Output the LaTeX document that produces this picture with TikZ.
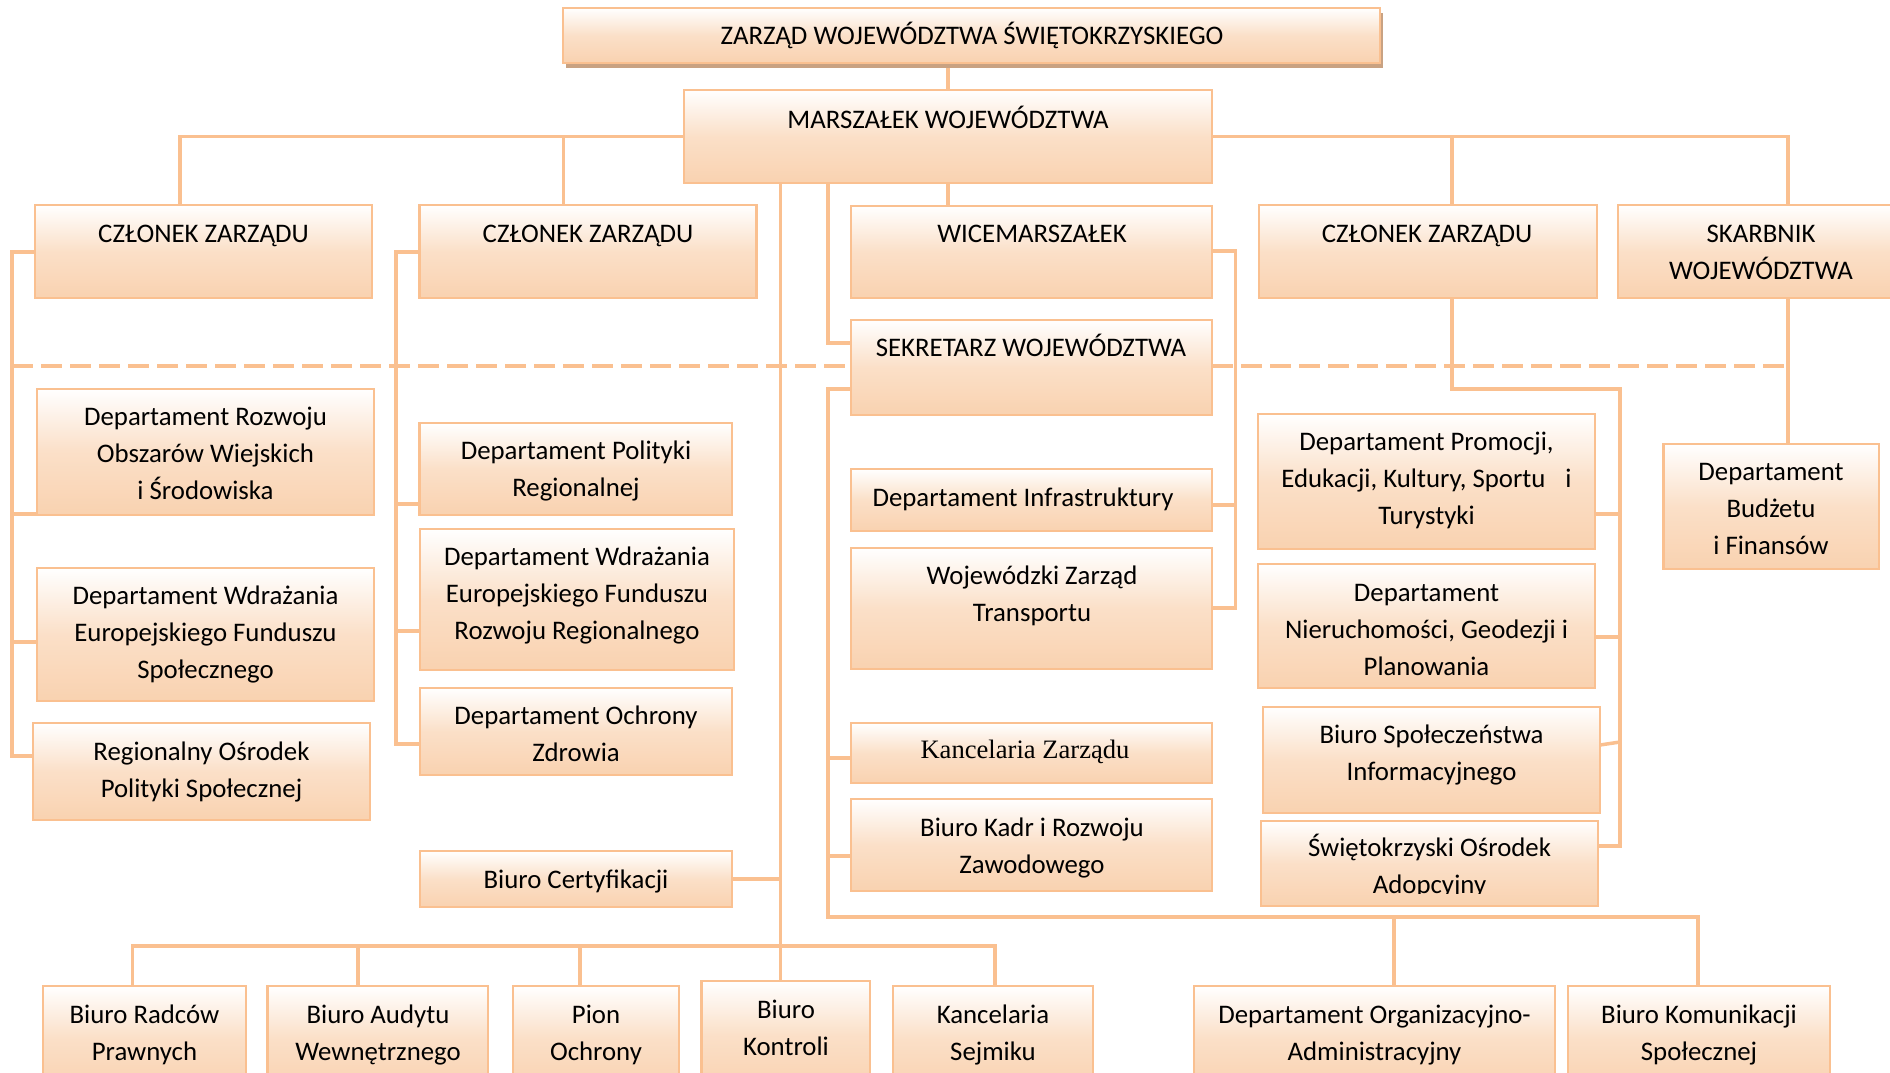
\documentclass[tikz,border=0pt]{standalone}
\usepackage{fontspec}
\setmainfont{Carlito}
\newfontfamily\tnrfont{Liberation Serif}
\usetikzlibrary{fit}
\definecolor{lnC}{RGB}{250,192,144}
\definecolor{pchC}{RGB}{249,210,176}
\definecolor{shdC}{RGB}{201,162,130}
\newcommand\tstrut{\rule{0pt}{13pt}}
\newcommand\bx[5]{\node[box, fit={(#2,#3)(#4,#5)}] (#1) {};}
\newcommand\tx[4]{\node[txt] (#1) at (#2,#3-17.8) {\tstrut#4};}
\begin{document}
\begin{tikzpicture}[x=0.5pt,y=-0.5pt,
  box/.style={rectangle, draw=lnC, line width=1.4pt, top color=white, bottom color=pchC, middle color=pchC!70!white, inner sep=0pt, outer sep=0pt},
  conn/.style={draw=lnC, line width=1.75pt},
  txt/.style={font=\fontsize{13.4}{18.5}\selectfont, align=center, inner sep=0pt, anchor=north, text=black}]
\useasboundingbox (0,0) rectangle (1890,1072);
\clip (0,0) rectangle (1890,1072);
% shadow of the top box
\node[fit={(566,13)(1383,68)}, fill=shdC, inner sep=0pt, outer sep=0pt] (zsh) {};
% boxes
\bx{zarzad}{563}{8}{1380}{63}
\bx{marsz}{684}{90}{1212}{183}
\bx{cz1}{35}{205}{372}{298}
\bx{cz2}{419.5}{205}{756.5}{298}
\bx{wice}{851}{206}{1212}{298}
\bx{cz3}{1259}{205}{1597}{298}
\bx{skarb}{1618}{205}{1906}{298}
\bx{sekr}{851}{320}{1212}{415}
\bx{dro}{37}{389}{374}{515}
\bx{defs}{37}{568}{374}{701}
\bx{rops}{33}{723}{370}{820}
\bx{dpr}{419.5}{423}{732}{515}
\bx{defrr}{420}{529}{734}{670}
\bx{doz}{420}{688}{732}{775}
\bx{bcert}{420}{851}{732}{907}
\bx{dinf}{851}{469}{1212}{531}
\bx{wzt}{851}{548}{1212}{669}
\bx{kz}{851}{723}{1212}{783}
\bx{bkadr}{851}{799}{1212}{891}
\bx{dprom}{1258}{414}{1595}{549}
\bx{dnier}{1258}{564}{1595}{688}
\bx{bspol}{1263}{707}{1600}{813}
\bx{soa}{1261}{821}{1598}{906}
\bx{dbud}{1663.5}{444}{1879}{569}
\bx{brad}{43}{986}{246}{1090}
\bx{baud}{267.6}{986}{488}{1090}
\bx{pion}{513}{986}{679}{1090}
\bx{bkon}{701.6}{981}{870}{1090}
\bx{ksej}{893}{986}{1093}{1090}
\bx{dorg}{1194}{986}{1555}{1090}
\bx{bkom}{1568}{986}{1830}{1090}
% connectors
\draw[conn] (zsh.south -| marsz.north) -- (marsz.north);
\draw[conn] (marsz.west) -- (180,136.5) -- (cz1.north -| 180,0);
\draw[conn] (563.6,136.5) -- (cz2.north -| 563.6,0);
\draw[conn] (marsz.east) -- (1788,136.5) -- (skarb.north -| 1788,0);
\draw[conn] (1452,136.5) -- (cz3.north -| 1452,0);
\draw[conn] (marsz.south) -- (wice.north -| marsz.south);
\draw[conn] (marsz.south -| 780.6,0) -- (bkon.north -| 780.6,0);
\draw[conn] (marsz.south -| 828,0) -- (828,343) -- (sekr.west |- 0,343);
\draw[conn] (sekr.west |- 0,389) -- (828,389) -- (828,917) -- (1698,917) -- (bkom.north -| 1698,0);
\draw[conn] (dorg.north -| 1394,0) -- (1394,917);
\draw[conn] (828,758) -- (kz.west |- 0,758);
\draw[conn] (828,856) -- (bkadr.west |- 0,856);
\draw[conn] (cz1.west |- 0,252) -- (12,252) -- (12,756) -- (rops.west |- 0,756);
\draw[conn] (12,514) -- (dro.west |- 0,514);
\draw[conn] (12,642) -- (defs.west |- 0,642);
\draw[conn] (cz2.west |- 0,252) -- (396,252) -- (396,744) -- (doz.west |- 0,744);
\draw[conn] (396,504) -- (dpr.west |- 0,504);
\draw[conn] (396,631) -- (defrr.west |- 0,631);
\draw[conn] (wice.east |- 0,251) -- (1235.5,251) -- (1235.5,608) -- (wzt.east |- 0,608);
\draw[conn] (1235.5,505) -- (dinf.east |- 0,505);
\draw[conn] (cz3.south -| 1452,0) -- (1452,389) -- (1620,389) -- (1620,846) -- (soa.east |- 0,846);
\draw[conn] (1620,514) -- (dprom.east |- 0,514);
\draw[conn] (1620,637) -- (dnier.east |- 0,637);
\draw[conn] (1620,742) -- (bspol.east |- 0,745);
\draw[conn] (skarb.south -| 1788,0) -- (dbud.north -| 1788,0);
\draw[conn] (bcert.east |- 0,879) -- (780.6,879);
\draw[conn] (brad.north -| 132.6,0) -- (132.6,946) -- (995,946) -- (ksej.north -| 995,0);
\draw[conn] (baud.north -| 358,0) -- (358,946);
\draw[conn] (pion.north -| 580,0) -- (580,946);
\draw[conn, dash pattern=on 10.5pt off 4pt] (12,366) -- (sekr.west |- 0,366);
\draw[conn, dash pattern=on 10.5pt off 4pt] (sekr.east |- 0,366) -- (1788,366);
% texts
\tx{t-zar}{972}{36}{ZARZĄD WOJEWÓDZTWA ŚWIĘTOKRZYSKIEGO}
\tx{t-mar}{948}{120}{MARSZAŁEK WOJEWÓDZTWA}
\tx{t-cz1}{203.5}{234}{CZŁONEK ZARZĄDU}
\tx{t-cz2}{588}{234}{CZŁONEK ZARZĄDU}
\tx{t-wice}{1032}{234}{WICEMARSZAŁEK}
\tx{t-cz3}{1427}{234}{CZŁONEK ZARZĄDU}
\tx{t-skarb}{1761}{234}{SKARBNIK\\WOJEWÓDZTWA}
\tx{t-sekr}{1031}{348}{SEKRETARZ WOJEWÓDZTWA}
\tx{t-dro}{205.5}{417}{Departament Rozwoju\\Obszarów Wiejskich\\i Środowiska}
\tx{t-defs}{205.5}{596}{Departament Wdrażania\\Europejskiego Funduszu\\Społecznego}
\tx{t-rops}{201.5}{752}{Regionalny Ośrodek\\Polityki Społecznej}
\tx{t-dpr}{576}{451}{Departament Polityki\\Regionalnej}
\tx{t-defrr}{577}{557}{Departament Wdrażania\\Europejskiego Funduszu\\Rozwoju Regionalnego}
\tx{t-doz}{576}{716}{Departament Ochrony\\Zdrowia}
\tx{t-bcert}{576}{880}{Biuro Certyfikacji}
\tx{t-dinf}{1023}{498}{Departament Infrastruktury}
\tx{t-wzt}{1032}{576}{Wojewódzki Zarząd\\Transportu}
\node[txt, font=\tnrfont\fontsize{13.3}{18.5}\selectfont] (t-kz) at (1025,750-17.8) {\tstrut Kancelaria Zarządu};
\tx{t-bkadr}{1032}{828}{Biuro Kadr i Rozwoju\\Zawodowego}
\tx{t-dprom}{1426.5}{442}{Departament Promocji,\\Edukacji, Kultury, Sportu\hspace{10pt}i\\Turystyki}
\tx{t-dnier}{1426.5}{593}{Departament\\Nieruchomości, Geodezji i\\Planowania}
\tx{t-bspol}{1431.5}{735}{Biuro Społeczeństwa\\Informacyjnego}
\begin{scope}
\clip (1261,821) rectangle (1598,893);
\tx{t-soa}{1429.5}{848}{Świętokrzyski Ośrodek\\Adopcyjny}
\end{scope}
\tx{t-dbud}{1771}{472}{Departament\\Budżetu\\i Finansów}
\tx{t-brad}{144.5}{1015}{Biuro Radców\\Prawnych}
\tx{t-baud}{378}{1015}{Biuro Audytu\\Wewnętrznego}
\tx{t-pion}{596}{1015}{Pion\\Ochrony}
\tx{t-bkon}{786}{1010}{Biuro\\Kontroli}
\tx{t-ksej}{993}{1015}{Kancelaria\\Sejmiku}
\tx{t-dorg}{1374.5}{1015}{Departament Organizacyjno-\\Administracyjny}
\tx{t-bkom}{1699}{1015}{Biuro Komunikacji\\Społecznej}
\end{tikzpicture}
\end{document}
